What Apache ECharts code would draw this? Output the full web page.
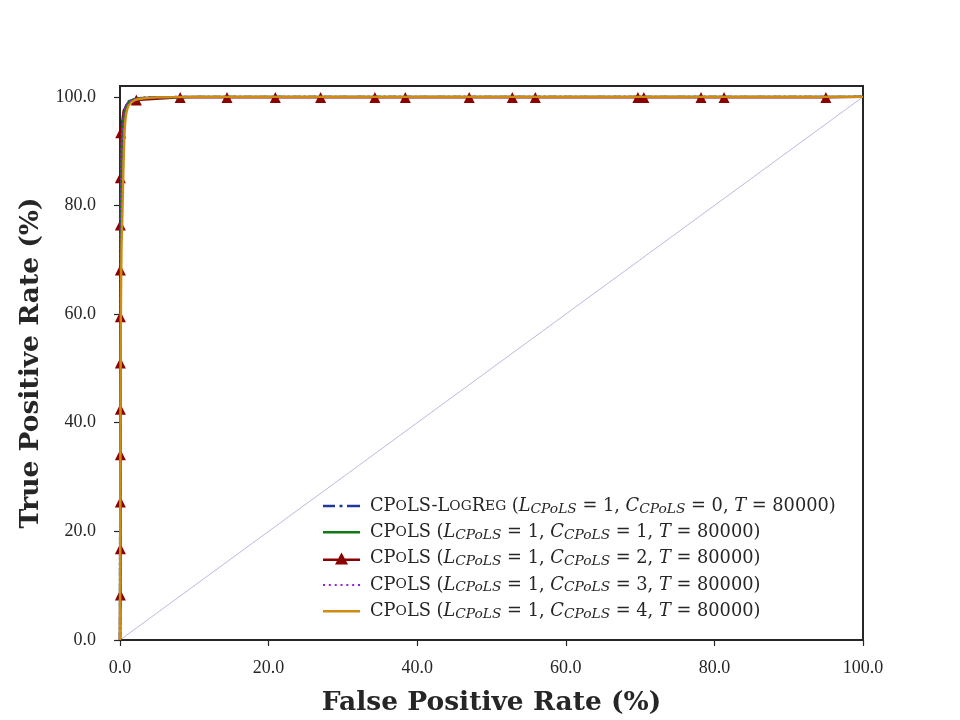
<!DOCTYPE html>
<html>
<head>
<meta charset="utf-8">
<script src="https://cdn.jsdelivr.net/npm/echarts@6/dist/echarts.min.js"></script>
<style>
  html, body { margin: 0; padding: 0; background: #fff; }
  #main { width: 960px; height: 720px; }
</style>
</head>
<body>
<div id="main"></div>
<script>
// names and C values for the legend
var seriesNames = [
  'CPoLS-LogReg (L=1, C=0, T=80000)',
  'CPoLS (L=1, C=1, T=80000)',
  'CPoLS (L=1, C=2, T=80000)',
  'CPoLS (L=1, C=3, T=80000)',
  'CPoLS (L=1, C=4, T=80000)'
];
var cValues = [0, 1, 2, 3, 4];
var colors = ['#1c3a9c', '#0f7a16', '#8b0a0a', '#9a1fd8', '#d08c10'];

// ROC curves (FPR %, TPR %)
var fprLogReg = [0, 0.05, 0.1, 0.2, 0.3, 0.5, 0.8, 1.2, 2, 3, 5, 10, 100];
var tprLogReg = [0, 45, 75, 89, 93.5, 96.5, 98.3, 99.2, 99.6, 99.8, 99.9, 100, 100];
var fprC1 = [0, 0.05, 0.1, 0.2, 0.3, 0.5, 0.8, 1.2, 2, 3, 5, 10, 100];
var tprC1 = [0, 42, 72, 88, 93, 96.3, 98.2, 99.1, 99.6, 99.8, 99.9, 100, 100];
var fprC3 = [0, 0.05, 0.1, 0.2, 0.3, 0.5, 0.8, 1.2, 2, 3, 5, 10, 100];
var tprC3 = [0, 44, 74, 88.5, 93, 96.4, 98.2, 99.1, 99.6, 99.8, 99.9, 100, 100];
var fprC4 = [0, 0.05, 0.1, 0.2, 0.3, 0.45, 0.6, 0.8, 1.2, 2, 3, 5, 10, 100];
var tprC4 = [0, 30, 55, 72, 77, 86, 93, 96.5, 98.5, 99.4, 99.7, 99.9, 100, 100];
// red curve, with marker flags
var fprC2 = [0, 0.05, 0.05, 0.05, 0.05, 0.05, 0.05, 0.05, 0.05, 0.05, 0.05, 0.1, 0.5, 1.2, 2.2, 8.1, 14.4, 20.9, 27, 34.3, 38.4, 47, 52.8, 55.9, 69.7, 70.5, 78.2, 81.3, 95, 100];
var tprC2 = [0, 8.3, 16.8, 25.4, 34.1, 42.5, 51, 59.5, 68.1, 76.4, 85.1, 93.4, 97.5, 99, 99.4, 99.9, 99.9, 99.9, 99.9, 99.9, 99.9, 99.9, 99.9, 99.9, 99.9, 99.9, 99.9, 99.9, 99.9, 100];
var markC2 = [0, 1, 1, 1, 1, 1, 1, 1, 1, 1, 1, 1, 0, 0, 1, 1, 1, 1, 1, 1, 1, 1, 1, 1, 1, 1, 1, 1, 1, 0];

var xTicks = [0, 20, 40, 60, 80, 100];

function pairs(xs, ys) {
  return xs.map(function (x, i) { return [x, ys[i]]; });
}

var chart = echarts.init(document.getElementById('main'));

var serif = '"Liberation Serif", "DejaVu Serif", serif';
var wide = '"DejaVu Serif", serif';

function legendText(name) {
  var idx = seriesNames.indexOf(name);
  var c = cValues[idx];
  var head = idx === 0
    ? '{lead|CP}{sc|O}{rm|LS-L}{sc|OG}{rm|R}{sc|EG}'
    : '{lead|CP}{sc|O}{rm|LS}';
  return head + '{rm| (}{it|L}{sub|CPoLS}{rm| = 1, }{it|C}{sub|CPoLS}{rm| = ' + c + ', }{it|T}{rm| = 80000)}';
}

// legend icons drawn like the reference (dash-dot, solid, line+triangle, dotted, solid)
var icons = [
  'path://M0,0H12V2.5H0Z M16.5,0H19.5V2.5H16.5Z M24,0H37V2.5H24Z',
  'path://M0,0H37V2.5H0Z',
  'path://M0,7H37V9.3H0Z M18.5,1L25,13H12Z',
  'path://M0,0H2V2H0Z M5.8,0H7.8V2H5.8Z M11.7,0H13.7V2H11.7Z M17.5,0H19.5V2H17.5Z M23.3,0H25.3V2H23.3Z M29.2,0H31.2V2H29.2Z M35,0H37V2H35Z',
  'path://M0,0H37V2.5H0Z'
];

var curveData = [pairs(fprLogReg, tprLogReg), pairs(fprC1, tprC1), null, pairs(fprC3, tprC3), pairs(fprC4, tprC4)];
var lineTypes = [[8, 3, 2, 3], 'solid', 'solid', [2, 3], 'solid'];

var series = [];
for (var i = 0; i < 5; i++) {
  if (i === 2) {
    series.push({
      name: seriesNames[i],
      type: 'line',
      symbol: 'triangle',
      symbolSize: 11,
      showSymbol: true,
      color: colors[i],
      lineStyle: { width: 2.4, color: colors[i] },
      itemStyle: { color: '#8b0000' },
      data: fprC2.map(function (x, j) {
        return { value: [x, tprC2[j]], symbol: markC2[j] ? 'triangle' : 'none' };
      }),
      z: 3
    });
  } else {
    series.push({
      name: seriesNames[i],
      type: 'line',
      symbol: 'none',
      smooth: 0.3,
      color: colors[i],
      lineStyle: { width: 2.4, color: colors[i], type: lineTypes[i] },
      data: curveData[i],
      z: 3 + i
    });
  }
}
// chance diagonal
series.push({
  name: 'diag',
  type: 'line',
  symbol: 'none',
  silent: true,
  lineStyle: { width: 0.6, color: '#8c8ccc' },
  data: [[0, 0], [100, 100]],
  z: 2
});

var txt = '#262626';
var option = {
  animation: false,
  backgroundColor: '#fff',
  grid: {
    left: 120, right: 97, top: 86, bottom: 80,
    outerBoundsMode: 'none', containLabel: false,
    show: true, borderColor: txt, borderWidth: 2, backgroundColor: 'transparent'
  },
  legend: {
    data: seriesNames.map(function (n, k) { return { name: n, icon: icons[k] }; }),
    orient: 'vertical',
    left: 318,
    top: 492,
    itemWidth: 37,
    itemHeight: 14,
    itemGap: 7.3,
    formatter: legendText,
    textStyle: {
      fontFamily: wide,
      rich: {
        lead: { fontFamily: wide, fontSize: 17.8, color: txt, lineHeight: 20, padding: [0, 0, 0, 5] },
        rm: { fontFamily: wide, fontSize: 17.8, color: txt, lineHeight: 20 },
        sc: { fontFamily: wide, fontSize: 13.8, color: txt, lineHeight: 20 },
        it: { fontFamily: wide, fontSize: 17.8, fontStyle: 'italic', color: txt, lineHeight: 20 },
        sub: { fontFamily: wide, fontSize: 13.8, fontStyle: 'italic', color: txt, lineHeight: 10, verticalAlign: 'bottom' }
      }
    }
  },
  xAxis: {
    type: 'value',
    min: 0, max: 100, interval: 20,
    name: 'False Positive Rate (%)',
    nameLocation: 'middle',
    nameGap: 50,
    nameTextStyle: { fontFamily: wide, fontSize: 26.5, fontWeight: 'bold', color: txt },
    axisLine: { show: true, lineStyle: { color: txt, width: 2 } },
    axisTick: { show: true, inside: false, length: 6, lineStyle: { color: txt, width: 1.2 } },
    axisLabel: { fontFamily: serif, fontSize: 18, color: txt, margin: 19,
      formatter: function (v) { return v.toFixed(1); } },
    splitLine: { show: false }
  },
  yAxis: {
    type: 'value',
    min: 0, max: 102, interval: 20,
    name: 'True Positive Rate (%)',
    nameLocation: 'middle',
    nameGap: 69,
    nameTextStyle: { fontFamily: wide, fontSize: 26.5, fontWeight: 'bold', color: txt },
    axisLine: { show: true, lineStyle: { color: txt, width: 2 } },
    axisTick: { show: true, inside: false, length: 6, lineStyle: { color: txt, width: 1.2 } },
    axisLabel: { fontFamily: serif, fontSize: 18, color: txt, margin: 24, showMaxLabel: false,
      formatter: function (v) { return v % 20 === 0 ? v.toFixed(1) : ''; } },
    splitLine: { show: false }
  },
  series: series
};

chart.setOption(option);
</script>
</body>
</html>
